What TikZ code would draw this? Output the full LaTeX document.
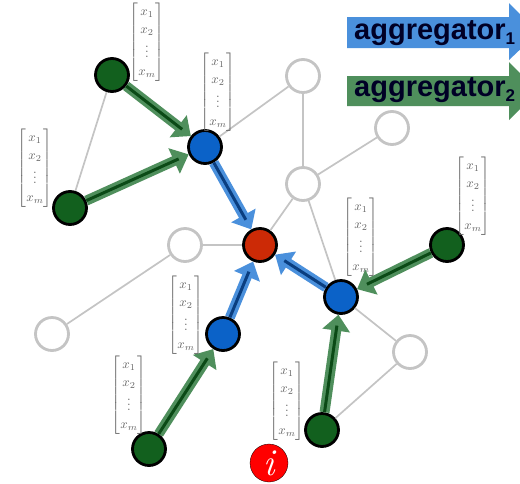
\documentclass[tikz,border=0pt]{standalone}
\usepackage{amsmath}
\usepackage{fontspec}
\setsansfont{Liberation Sans}
\usetikzlibrary{arrows.meta}
\definecolor{gfill}{HTML}{12601E}
\definecolor{bfill}{HTML}{0B62C8}
\definecolor{rfill}{HTML}{CC2A06}
\definecolor{gwide}{HTML}{4F8F5C}
\definecolor{bwide}{HTML}{4A90DC}
\definecolor{gdark}{HTML}{0B4A16}
\definecolor{bdark}{HTML}{0A3E80}
\definecolor{edgegray}{HTML}{C4C4C4}
\tikzset{
  x=1pt,y=-1pt,
  nd/.style={circle,draw=black,line width=2.8pt,minimum size=33pt,inner sep=0pt},
  green nd/.style={nd,fill=gfill},
  blue nd/.style={nd,fill=bfill},
  red nd/.style={nd,fill=rfill},
  white nd/.style={circle,draw=edgegray,line width=2.8pt,fill=white,minimum size=33pt,inner sep=0pt},
  edge/.style={draw=edgegray,line width=1.7pt},
  gw/.style={draw=gwide,line width=10pt,-{Triangle[length=16pt,width=27pt]}},
  bw/.style={draw=bwide,line width=10pt,-{Triangle[length=16pt,width=27pt]}},
  gd/.style={draw=gdark,line width=3pt,shorten >=11pt},
  bd/.style={draw=bdark,line width=3pt,shorten >=11pt},
  fv/.style={text=black!60,scale=1.3,transform shape,inner sep=0pt},
  aggtext/.style={anchor=west,inner sep=0pt,text=black!85!blue,font=\sffamily\bfseries\fontsize{29}{30}\selectfont},
}
\newcommand{\fvec}{$\arraycolsep=0pt\renewcommand{\arraystretch}{1.12}\left[\begin{array}{c}\,x_1\,\\ x_2\\ \vdots\\ x_m\end{array}\right]$}
\newcommand{\aggsub}[1]{\raisebox{-5pt}{\fontsize{17}{17}\selectfont #1}}
\begin{document}
\begin{tikzpicture}
\useasboundingbox (0,0) rectangle (520,483);
\clip (0,0) rectangle (520,483);
\fill[white] (0,0) rectangle (520,483);
% aggregator legend
\fill[bwide] (347,17) -- (509,17) -- (509,3) -- (538,32.5) -- (509,60) -- (509,48) -- (347,48) -- cycle;
\fill[gwide] (347,76) -- (509,76) -- (509,62) -- (538,91) -- (509,120) -- (509,106) -- (347,106) -- cycle;
\node[aggtext] (t1) at (354,33) {aggregator\aggsub{1}};
\node[aggtext] (t2) at (354,90) {aggregator\aggsub{2}};
% nodes
\node[green nd] (g1) at (112,75) {};
\node[green nd] (g2) at (70,208) {};
\node[green nd] (g3) at (447,245) {};
\node[green nd] (g4) at (322,430) {};
\node[green nd] (g5) at (149,449) {};
\node[blue nd] (b1) at (205,147) {};
\node[blue nd] (b2) at (341,297) {};
\node[blue nd] (b3) at (223,334) {};
\node[red nd] (r) at (260,245) {};
\node[white nd] (w1) at (303,76) {};
\node[white nd] (w2) at (392,128) {};
\node[white nd] (w3) at (303,184) {};
\node[white nd] (w4) at (185,245) {};
\node[white nd] (w5) at (52,334) {};
\node[white nd] (w6) at (410,352) {};
% gray edges
\draw[edge] (g1) -- (g2);
\draw[edge] (b1) -- (w1);
\draw[edge] (w1) -- (w3);
\draw[edge] (w2) -- (w3);
\draw[edge] (w3) -- (r);
\draw[edge] (w3) -- (b2);
\draw[edge] (r) -- (w4);
\draw[edge] (w4) -- (w5);
\draw[edge] (b2) -- (w6);
\draw[edge] (w6) -- (g4);
% aggregator arrows
\foreach \a/\b in {g1/b1,g2/b1,g3/b2,g4/b2,g5/b3}{
  \draw[gw] (\a) -- (\b);
  \draw[gd] (\a) -- (\b);
}
\foreach \a/\b in {b1/r,b2/r,b3/r}{
  \draw[bw] (\a) -- (\b);
  \draw[bd] (\a) -- (\b);
}
% feature vectors
\node[fv] (v1) at (147,42) {\fvec};
\node[fv] (v2) at (218,92) {\fvec};
\node[fv] (v3) at (35,168) {\fvec};
\node[fv] (v4) at (186,315) {\fvec};
\node[fv] (v5) at (129,395) {\fvec};
\node[fv] (v6) at (287,401) {\fvec};
\node[fv] (v7) at (361,237) {\fvec};
\node[fv] (v8) at (473,196) {\fvec};
% target label
\node[circle,fill=red,draw=black,line width=0.3pt,minimum size=38pt,inner sep=0pt,text=white,font=\itshape\fontsize{38}{38}\selectfont] (lab) at (269,463) {i};
\end{tikzpicture}
\end{document}
